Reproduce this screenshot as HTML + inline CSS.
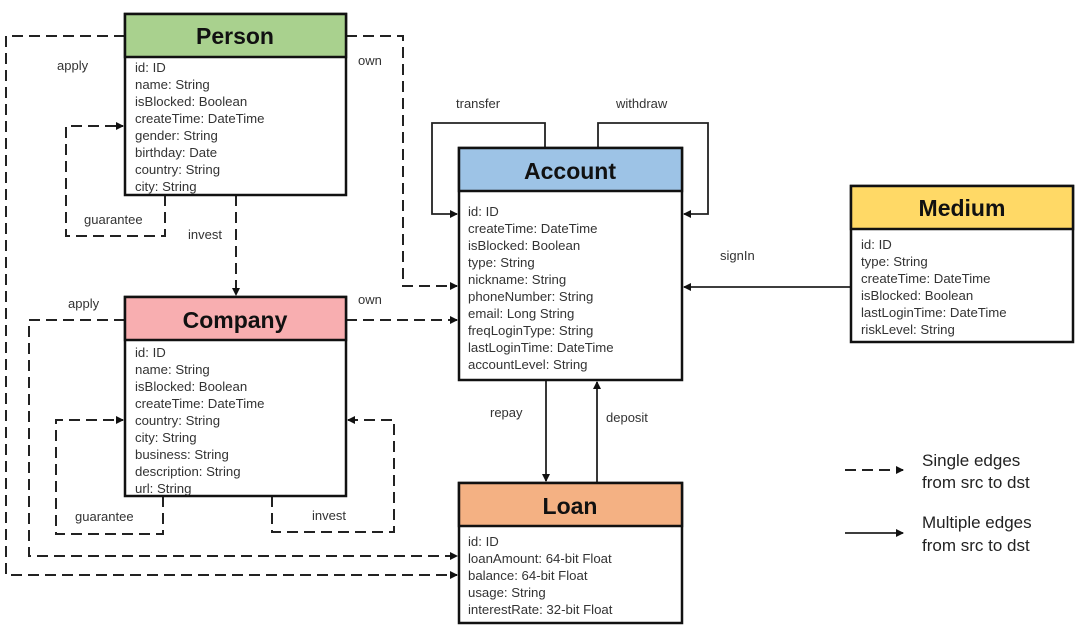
<!DOCTYPE html>
<html><head><meta charset="utf-8"><style>
html,body{margin:0;padding:0;background:#fff;}
svg{display:block;font-family:"Liberation Sans",sans-serif;}
.f{font-size:13.2px;fill:#333;}
.h{font-size:23px;font-weight:bold;fill:#111;text-anchor:middle;}
.l{font-size:13px;fill:#333;}
.d{fill:none;stroke:#222;stroke-width:2;stroke-dasharray:11,6;}
.s{fill:none;stroke:#222;stroke-width:1.8;}
.b{fill:#fff;stroke:#111;stroke-width:2.5;}
</style></head><body>
<svg width="1080" height="627" viewBox="0 0 1080 627">
<defs><marker id="a" markerWidth="8" markerHeight="8" refX="7" refY="4" orient="auto" markerUnits="userSpaceOnUse"><path d="M0,0 L8,4 L0,8z" fill="#111"/></marker></defs>

<path class="d" d="M125,36 H6 V575 H457" marker-end="url(#a)"/>
<path class="d" d="M346,36 H403 V286 H457" marker-end="url(#a)"/>
<path class="d" d="M165,195 V236 H66 V126 H123" marker-end="url(#a)"/>
<path class="d" d="M236,195 V295" marker-end="url(#a)"/>
<path class="d" d="M125,320 H29 V556 H457" marker-end="url(#a)"/>
<path class="d" d="M346,320 H457" marker-end="url(#a)"/>
<path class="d" d="M163,496 V534 H56 V420 H123" marker-end="url(#a)"/>
<path class="d" d="M272,496 V532 H394 V420 H348" marker-end="url(#a)"/>
<path class="s" d="M545,148 V123 H432 V214 H457" marker-end="url(#a)"/>
<path class="s" d="M598,148 V123 H708 V214 H684" marker-end="url(#a)"/>
<path class="s" d="M546,380 V481" marker-end="url(#a)"/>
<path class="s" d="M597,483 V382" marker-end="url(#a)"/>
<path class="s" d="M851,287 H684" marker-end="url(#a)"/>

<rect class="b" x="125" y="14" width="221" height="181"/>
<rect x="125" y="14" width="221" height="43" fill="#a9d18e" stroke="#111" stroke-width="2.5"/>
<text class="h" x="235" y="44">Person</text>
<g class="f"><text x="135" y="72">id: ID</text><text x="135" y="89">name: String</text><text x="135" y="106">isBlocked: Boolean</text><text x="135" y="123">createTime: DateTime</text><text x="135" y="140">gender: String</text><text x="135" y="157">birthday: Date</text><text x="135" y="174">country: String</text><text x="135" y="191">city: String</text></g>

<rect class="b" x="125" y="297" width="221" height="199"/>
<rect x="125" y="297" width="221" height="43" fill="#f8aeb0" stroke="#111" stroke-width="2.5"/>
<text class="h" x="235" y="328">Company</text>
<g class="f"><text x="135" y="357">id: ID</text><text x="135" y="374">name: String</text><text x="135" y="391">isBlocked: Boolean</text><text x="135" y="408">createTime: DateTime</text><text x="135" y="425">country: String</text><text x="135" y="442">city: String</text><text x="135" y="459">business: String</text><text x="135" y="476">description: String</text><text x="135" y="493">url: String</text></g>

<rect class="b" x="459" y="148" width="223" height="232"/>
<rect x="459" y="148" width="223" height="43" fill="#9dc3e6" stroke="#111" stroke-width="2.5"/>
<text class="h" x="570" y="179">Account</text>
<g class="f"><text x="468" y="216">id: ID</text><text x="468" y="233">createTime: DateTime</text><text x="468" y="250">isBlocked: Boolean</text><text x="468" y="267">type: String</text><text x="468" y="284">nickname: String</text><text x="468" y="301">phoneNumber: String</text><text x="468" y="318">email: Long String</text><text x="468" y="335">freqLoginType: String</text><text x="468" y="352">lastLoginTime: DateTime</text><text x="468" y="369">accountLevel: String</text></g>

<rect class="b" x="459" y="483" width="223" height="140"/>
<rect x="459" y="483" width="223" height="43" fill="#f4b183" stroke="#111" stroke-width="2.5"/>
<text class="h" x="570" y="514">Loan</text>
<g class="f"><text x="468" y="546">id: ID</text><text x="468" y="563">loanAmount: 64-bit Float</text><text x="468" y="580">balance: 64-bit Float</text><text x="468" y="597">usage: String</text><text x="468" y="614">interestRate: 32-bit Float</text></g>

<rect class="b" x="851" y="186" width="222" height="156"/>
<rect x="851" y="186" width="222" height="43" fill="#ffd966" stroke="#111" stroke-width="2.5"/>
<text class="h" x="962" y="216">Medium</text>
<g class="f"><text x="861" y="249">id: ID</text><text x="861" y="266">type: String</text><text x="861" y="283">createTime: DateTime</text><text x="861" y="300">isBlocked: Boolean</text><text x="861" y="317">lastLoginTime: DateTime</text><text x="861" y="334">riskLevel: String</text></g>

<g class="l">
<text x="57" y="70">apply</text><text x="358" y="65">own</text>
<text x="84" y="224">guarantee</text><text x="188" y="239">invest</text>
<text x="68" y="308">apply</text><text x="358" y="304">own</text>
<text x="75" y="521">guarantee</text><text x="312" y="520">invest</text>
<text x="456" y="108">transfer</text><text x="616" y="108">withdraw</text>
<text x="720" y="260">signIn</text>
<text x="490" y="417">repay</text><text x="606" y="422">deposit</text>
</g>

<path class="d" d="M845,470 H903" marker-end="url(#a)"/>
<path class="s" d="M845,533 H903" marker-end="url(#a)"/>
<g style="font-size:17px;fill:#222"><text x="922" y="466">Single edges</text><text x="922" y="488">from src to dst</text><text x="922" y="528">Multiple edges</text><text x="922" y="551">from src to dst</text></g>
</svg>
</body></html>
